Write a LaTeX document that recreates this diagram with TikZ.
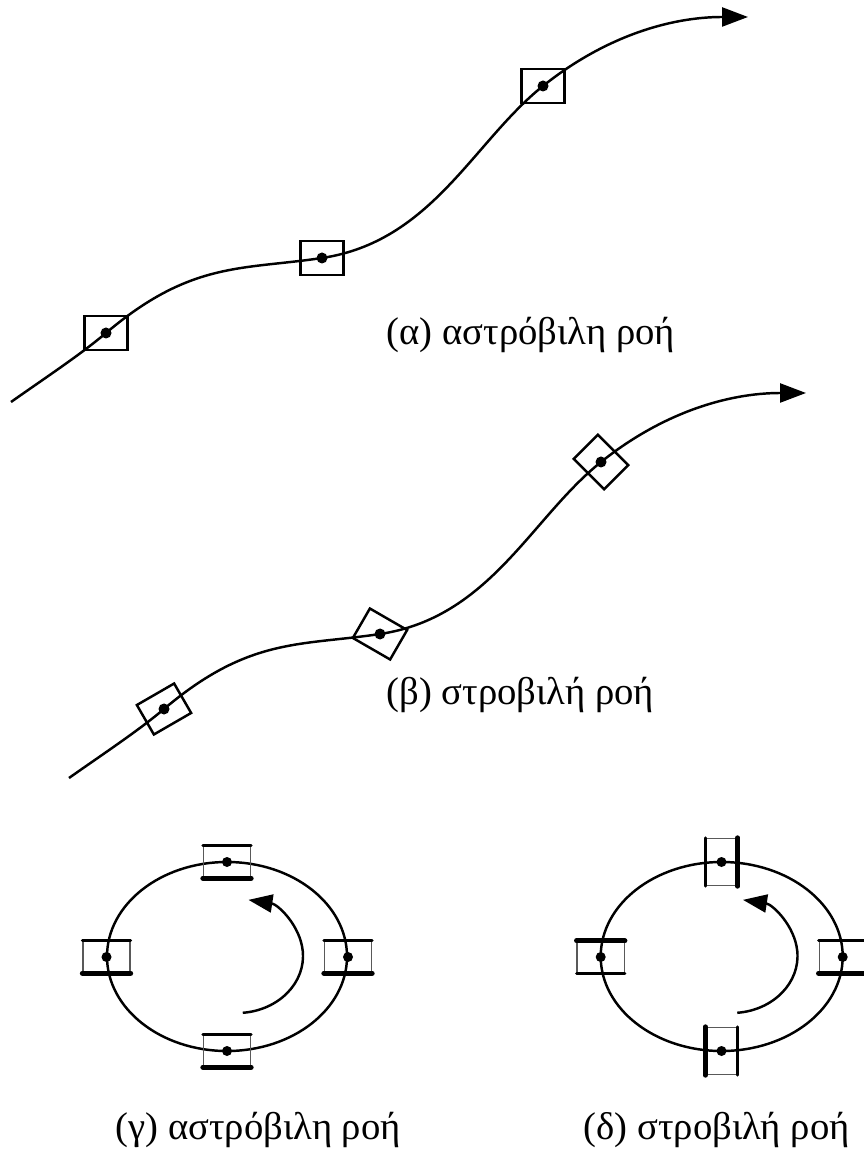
\documentclass[tikz,border=0pt]{standalone}
\usepackage{fontspec}
\setmainfont{Liberation Serif}
\usetikzlibrary{arrows.meta}

\begin{document}
\begin{tikzpicture}[
  x=0.01cm, y=-0.01cm,
  flow/.style={line width=0.7pt},
  elem/.style={draw, line width=0.7pt, minimum width=0.43cm,
               minimum height=0.34cm, inner sep=0pt},
  pt/.style={circle, fill, inner sep=0pt, minimum size=0.11cm},
  celem/.style={draw=black!65, line width=0.4pt, minimum width=0.47cm,
                minimum height=0.31cm, inner sep=0pt},
  medside/.style={line width=0.8pt, line cap=round},
  heavyside/.style={line width=1.4pt, line cap=round},
  lbl/.style={font=\fontsize{11}{13}\selectfont, anchor=west, inner sep=0pt},
  bigtip/.style={-{Triangle[length=0.26cm, width=0.19cm]}},
  smalltip/.style={-{Triangle[length=0.24cm, width=0.18cm]}}
]
  \useasboundingbox (0,0) rectangle (863,1168);

  % streamlines (a) and (b)
  \foreach \dx/\dy in {0/0, 58/376} {
    \begin{scope}[shift={(\dx,\dy)}]
      \draw[flow, bigtip] (11,402) .. controls (45,378) and (80,355) .. (106,333)
        .. controls (191,261) and (242,270) .. (322,258)
        .. controls (432,241.5) and (473,142) .. (543,86)
        .. controls (603,38) and (668,17) .. (748,17);
    \end{scope}
  }

  % (a) elements keep their orientation
  \node[elem] (a1) at (106,333) {};
  \node[elem] (a2) at (322,258) {};
  \node[elem] (a3) at (543,86) {};
  \foreach \n in {a1,a2,a3}
    \node[pt] at (\n) {};

  % (b) elements turn along the streamline
  \node[elem, rotate=30]  (b1) at (164,709) {};
  \node[elem, rotate=-30] (b2) at (380,634) {};
  \node[elem, rotate=-45] (b3) at (601,462) {};
  \foreach \n in {b1,b2,b3}
    \node[pt] at (\n) {};

  \node[lbl] (la) at (386,335) {(α) αστρόβιλη ροή};
  \node[lbl] (lb) at (386,695) {(β) στροβιλή ροή};

  % circular paths (c) and (d)
  \draw[flow] (227,956.5) ellipse [x radius=120, y radius=94.5];
  \draw[flow] (721.7,956.5) ellipse [x radius=121, y radius=94.5];

  \coordinate (cc) at (237,956);
  \coordinate (dc) at (731.5,956);
  \draw[flow, smalltip] ([shift={(85:66 and 57)}]cc)
    arc [start angle=85, end angle=-80, x radius=66, y radius=57];
  \draw[flow, smalltip] ([shift={(85:66 and 57)}]dc)
    arc [start angle=85, end angle=-80, x radius=66, y radius=57];

  \foreach \nm/\px/\py/\rot in {ct/227/862/0, cl/106.5/957/0, cr/348/957/0,
      cb/227/1051/0, dt/721.5/862/90, dl/600.7/957/180, dr/842.7/957/0,
      db/721.5/1051/-90} {
    \node[celem, rotate=\rot] (\nm box) at (\px,\py) {};
    \draw[medside] (\nm box.north west) -- (\nm box.north east);
    \draw[heavyside] (\nm box.south west) -- (\nm box.south east);
    \node[pt, minimum size=0.1cm] (\nm) at (\px,\py) {};
  }

  \node[lbl] (lc) at (115,1130) {(γ) αστρόβιλη ροή};
  \node[lbl] (ld) at (583,1130) {(δ) στροβιλή ροή};
\end{tikzpicture}
\end{document}
